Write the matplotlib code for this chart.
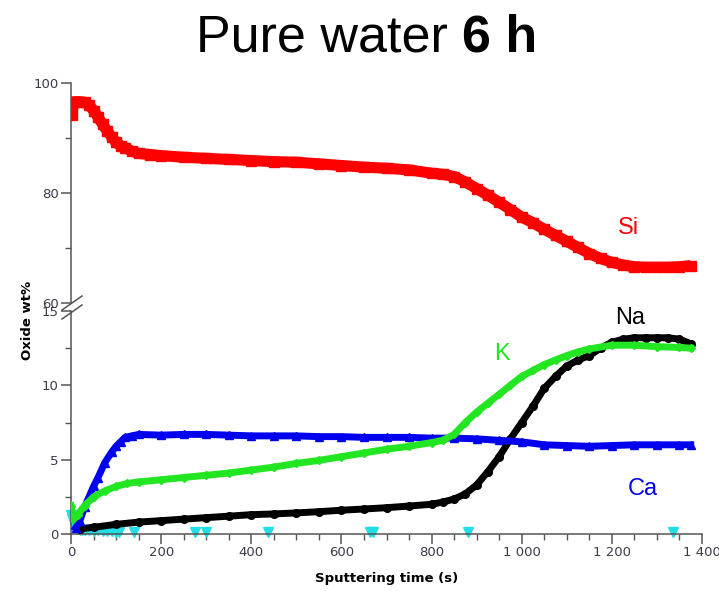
import matplotlib.pyplot as plt
import numpy as np
from matplotlib.ticker import MultipleLocator, FuncFormatter

# sputtering time (s) and oxide wt%
t_si = [2, 6, 20, 30, 40, 50, 60, 70, 80, 90, 100, 110, 120, 135, 150, 175, 200, 250, 300, 350, 400,
        450, 500, 550, 600, 650, 700, 750, 800, 825, 850, 875, 900, 925, 950, 975, 1000, 1025, 1050,
        1075, 1100, 1125, 1150, 1175, 1200, 1225, 1250, 1275, 1300, 1325, 1350, 1375]
si = [94.2, 96.6, 96.6, 96.5, 96.0, 95.0, 93.8, 92.5, 91.3, 90.2, 89.2, 88.6, 88.2, 87.6, 87.2, 87.0,
      86.8, 86.5, 86.3, 86.1, 85.9, 85.7, 85.6, 85.3, 85.0, 84.7, 84.5, 84.2, 83.6, 83.4, 83.0, 82.0,
      80.8, 79.6, 78.3, 77.0, 75.6, 74.6, 73.4, 72.3, 71.2, 70.1, 69.0, 68.1, 67.4, 66.9, 66.6, 66.5,
      66.5, 66.5, 66.6, 66.8]

t_na = [20, 50, 100, 150, 200, 250, 300, 350, 400, 450, 500, 550, 600, 650, 700, 750, 800, 825, 850,
        875, 900, 925, 950, 975, 1000, 1025, 1050, 1075, 1100, 1125, 1150, 1175, 1200, 1225, 1250,
        1275, 1300, 1325, 1350, 1375]
na = [0.35, 0.45, 0.65, 0.8, 0.9, 1.0, 1.1, 1.2, 1.3, 1.35, 1.42, 1.5, 1.6, 1.68, 1.77, 1.88, 2.0,
      2.15, 2.35, 2.7, 3.3, 4.2, 5.2, 6.4, 7.5, 8.6, 9.8, 10.6, 11.3, 11.7, 12.0, 12.5, 12.9, 13.1,
      13.2, 13.2, 13.2, 13.2, 13.1, 12.8]

t_k = [0, 5, 15, 30, 50, 75, 100, 125, 150, 200, 250, 300, 350, 400, 450, 500, 550, 600, 650, 700,
       750, 800, 825, 850, 875, 900, 925, 950, 975, 1000, 1025, 1050, 1075, 1100, 1125, 1150, 1200,
       1250, 1300, 1350, 1375]
k = [1.9, 1.0, 1.3, 1.9, 2.5, 2.9, 3.2, 3.4, 3.5, 3.65, 3.8, 3.95, 4.1, 4.3, 4.5, 4.75, 4.95, 5.2,
     5.45, 5.7, 5.9, 6.15, 6.3, 6.7, 7.5, 8.2, 8.8, 9.4, 10.0, 10.6, 11.0, 11.4, 11.7, 12.0, 12.25,
     12.45, 12.7, 12.7, 12.6, 12.55, 12.5]

t_ca = [10, 20, 30, 40, 50, 60, 75, 90, 100, 110, 120, 135, 150, 200, 250, 300, 350, 400, 450, 500,
        550, 600, 650, 700, 750, 800, 850, 900, 950, 1000, 1050, 1100, 1150, 1200, 1250, 1300, 1350, 1375]
ca = [0.4, 0.9, 1.8, 2.5, 3.2, 3.8, 4.8, 5.5, 5.9, 6.2, 6.5, 6.6, 6.7, 6.65, 6.7, 6.7, 6.65, 6.6,
      6.6, 6.6, 6.55, 6.55, 6.5, 6.5, 6.5, 6.45, 6.45, 6.4, 6.3, 6.2, 6.0, 5.95, 5.9, 5.95, 6.0, 6.0,
      6.0, 6.0]

# cyan: dense start block, then isolated points near zero
t_cy0 = [1, 3, 6, 10, 15, 20, 25, 30, 40, 50, 60, 70, 80, 90, 100, 107]
cy0 = [1.3, 1.0, 0.7, 0.45, 0.35, 0.3, 0.3, 0.25, 0.25, 0.2, 0.25, 0.2, 0.2, 0.2, 0.15, 0.15]
t_cy = [139, 276, 299, 438, 663, 669, 881, 1335]
cy = [0.15, 0.15, 0.15, 0.15, 0.15, 0.15, 0.15, 0.15]

RED = "#ff0000"
GREEN = "#22e622"
BLUE = "#0000ee"
CYAN = "#22dde6"
TICKC = "#3a3a4a"
SPINE = "#555555"

fig = plt.figure(figsize=(7.19, 5.91), dpi=100)
L, W = 71 / 719, 631 / 719
ax_t = fig.add_axes([L, 1 - 303 / 591, W, 220 / 591])
ax_b = fig.add_axes([L, 1 - 534 / 591, W, 223 / 591], sharex=ax_t)

for ax in (ax_t, ax_b):
    for s in ("top", "right"):
        ax.spines[s].set_visible(False)
    ax.spines["left"].set_color(SPINE)
    ax.spines["bottom"].set_color(SPINE)
    ax.spines["left"].set_linewidth(1.1)
    ax.spines["bottom"].set_linewidth(1.1)
    ax.tick_params(which="major", length=7, width=1.1, color=SPINE, labelsize=9.5,
                   labelcolor=TICKC, pad=2)
    ax.tick_params(which="minor", length=4, width=1.0, color=SPINE)
    ax.set_facecolor("none")

ax_t.spines["bottom"].set_visible(False)
ax_t.tick_params(axis="x", which="both", bottom=False, labelbottom=False)

# top panel: Si
ax_t.plot(t_si, si, color=RED, lw=8, marker="s", ms=7, solid_capstyle="butt")
ax_t.set_ylim(60, 100)
ax_t.yaxis.set_major_locator(MultipleLocator(20))
ax_t.yaxis.set_minor_locator(MultipleLocator(10))
ax_t.text(1236, 73.6, "Si", color=RED, fontsize=17, family="Liberation Sans",
          ha="center", va="center")

# bottom panel
ax_b.plot(t_cy0, cy0, color=CYAN, lw=5, marker="v", ms=7, clip_on=False, zorder=2)
ax_b.plot(t_cy, cy, color=CYAN, lw=0, marker="v", ms=7, clip_on=False, zorder=2)
ax_b.plot(t_na, na, color="black", lw=5, marker="o", ms=5.5, zorder=3)
ax_b.plot(t_ca, ca, color=BLUE, lw=5, marker="^", ms=5.5, zorder=4)
ax_b.plot(t_k, k, color=GREEN, lw=5, marker="D", ms=4.5, zorder=5)
ax_b.set_ylim(0, 15)
ax_b.set_xlim(0, 1400)
ax_b.yaxis.set_major_locator(MultipleLocator(5))
ax_b.yaxis.set_minor_locator(MultipleLocator(2.5))
ax_b.xaxis.set_major_locator(MultipleLocator(200))
ax_b.xaxis.set_minor_locator(MultipleLocator(50))
ax_b.xaxis.set_major_formatter(FuncFormatter(lambda v, p: f"{int(v):,}".replace(",", " ")))
ax_b.set_xlabel("Sputtering time (s)", fontsize=9.5, fontweight="bold", labelpad=9)

ax_b.text(1240, 14.5, "Na", color="black", fontsize=17, family="Liberation Sans",
          ha="center", va="center", clip_on=False)
ax_b.text(956, 12.1, "K", color=GREEN, fontsize=17, family="Liberation Sans",
          ha="center", va="center")
ax_b.text(1269, 3.0, "Ca", color=BLUE, fontsize=17, family="Liberation Sans",
          ha="center", va="center")

# axis break marks
for yc in (303, 312):
    x0, x1 = 62 / 719, 82 / 719
    y0, y1 = 1 - (yc + 7) / 591, 1 - (yc - 7) / 591
    fig.add_artist(plt.Line2D([x0, x1], [y0, y1], color=SPINE, lw=1.1))

fig.text(28 / 719, 1 - 320 / 591, "Oxide wt%", rotation=90, fontsize=9.5, fontweight="bold",
         ha="center", va="center")

# title with bold part
renderer = fig.canvas.get_renderer()
t1 = fig.text(196 / 719, 1 - 51 / 591, "Pure water", fontsize=37.5, family="Liberation Sans",
              ha="left", va="baseline")
bb = t1.get_window_extent(renderer)
space = 0.278 * 37.5 * 100 / 72
fig.text((bb.x1 + space) / 719, 1 - 51 / 591, "6 h", fontsize=37.5, family="Liberation Sans",
         fontweight="bold", ha="left", va="baseline")

fig.savefig("out.png", dpi=100)
